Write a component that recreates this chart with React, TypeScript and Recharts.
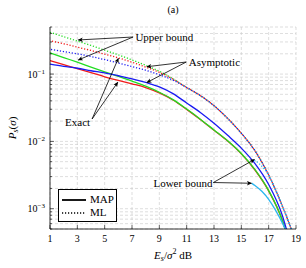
import {
  LineChart,
  Line,
  XAxis,
  YAxis,
  CartesianGrid,
  ReferenceLine,
  ReferenceDot
} from 'recharts'

// ---- data (symbol error probability vs Es/sigma^2) ----

const snr = [1, 2, 3, 4, 5, 6, 7, 8, 9, 10, 11, 12, 13, 14, 15, 16, 17, 18, 18.5, 19]

// green: upper bound
const upperMap = [0.207, 0.176, 0.15, 0.127, 0.108, 0.0923, 0.0785, 0.0661, 0.0537, 0.0417, 0.0302, 0.0214, 0.0148, 0.0102, 0.00661, 0.0038, 0.00186, 0.000676, 0.000316, 0.000141]
const upperMl = [0.417, 0.359, 0.309, 0.266, 0.226, 0.193, 0.162, 0.135, 0.11, 0.0851, 0.0631, 0.0479, 0.0339, 0.0219, 0.0132, 0.00724, 0.00316, 0.0011, 0.000603, 0.000316]

// red: exact
const exactMap = [0.158, 0.138, 0.12, 0.105, 0.0912, 0.0804, 0.0716, 0.0631, 0.0525, 0.0412, 0.0299, 0.0211, 0.0146, 0.0101, 0.00653, 0.00376, 0.00184, 0.000668, 0.000313, 0.00014]
const exactMl = [0.313, 0.282, 0.251, 0.224, 0.197, 0.174, 0.15, 0.127, 0.106, 0.0841, 0.0631, 0.0479, 0.0339, 0.0219, 0.0132, 0.00724, 0.00316, 0.0011, 0.000603, 0.000316]

// blue: asymptotic
const asymMap = [0.14, 0.13, 0.122, 0.112, 0.104, 0.0944, 0.0851, 0.075, 0.0646, 0.0513, 0.0372, 0.0269, 0.0186, 0.0123, 0.00794, 0.00468, 0.00229, 0.000794, 0.000355, 0.000158]
const asymMl = [0.233, 0.216, 0.2, 0.182, 0.164, 0.146, 0.129, 0.114, 0.0977, 0.0813, 0.0631, 0.0479, 0.0339, 0.0219, 0.0132, 0.00724, 0.00316, 0.0011, 0.000603, 0.000316]

// cyan: lower bound (only at high SNR)
const lowerMapSnr = [15.75, 16, 16.5, 17, 17.5, 18, 18.5, 19]
const lowerMap = [0.0024, 0.00221, 0.00182, 0.00138, 0.000955, 0.000617, 0.000363, 0.000178]
const lowerMlSnr = [15.95, 16.3, 16.6, 17, 17.35, 18, 18.5, 19]
const lowerMl = [0.00525, 0.00468, 0.00407, 0.00316, 0.00224, 0.0011, 0.000603, 0.000316]

const xTicks = [1, 3, 5, 7, 9, 11, 13, 15, 17, 19]
const yTicks = [
  0.0005, 0.0006, 0.0007, 0.0008, 0.0009,
  0.001, 0.002, 0.003, 0.004, 0.005, 0.006, 0.007, 0.008, 0.009,
  0.01, 0.02, 0.03, 0.04, 0.05, 0.06, 0.07, 0.08, 0.09,
  0.1, 0.2, 0.3, 0.4, 0.5
]

// annotation texts with arrows (data coordinates)
const noteTexts = ['Upper bound', 'Asymptotic', 'Exact', 'Lower bound']
const noteAnchors = [[7.25, 0.355], [11.15, 0.15], [2.1, 0.0196], [8.57, 0.00244]]
const noteTails = [[7.08, 0.355], [10.97, 0.151], [4.08, 0.0215], [12.95, 0.00245]]
const noteHeads = [
  [[3.07, 0.321], [3.07, 0.162]],
  [[8.09, 0.1285], [8.09, 0.075]],
  [[6.0, 0.171], [5.96, 0.0755]],
  [[15.96, 0.00538], [15.74, 0.00239]]
]

const legendItems = [
  { name: 'MAP', dash: undefined },
  { name: 'ML', dash: '1.2 1.8' }
]

const rows = snr.map((x, i) => ({
  snr: x,
  upperMap: upperMap[i],
  upperMl: upperMl[i],
  exactMap: exactMap[i],
  exactMl: exactMl[i],
  asymMap: asymMap[i],
  asymMl: asymMl[i]
}))
const lowerMapRows = lowerMapSnr.map((x, i) => ({ snr: x, p: lowerMap[i] }))
const lowerMlRows = lowerMlSnr.map((x, i) => ({ snr: x, p: lowerMl[i] }))

const FONT = '"Liberation Serif", "DejaVu Serif", serif'
const GREEN = '#22dd22'
const RED = '#f21a1a'
const BLUE = '#1a1af2'
const CYAN = '#29b6f0'
const DOT = '1.2 1.8'

const isDecade = (v: number) => Math.abs(Math.log10(v) - Math.round(Math.log10(v))) < 1e-6

const BottomTick = ({ x, y, payload }: any) => (
  <g>
    <line x1={x} x2={x} y1={y - 9} y2={y - 13} stroke="#000" strokeWidth={0.6} />
    <text x={x} y={y} dy="0.35em" textAnchor="middle" fontSize={10} fontFamily={FONT} fill="#000">
      {payload.value}
    </text>
  </g>
)

const TopTick = ({ x, y }: any) => (
  <line x1={x} x2={x} y1={y} y2={y + 4} stroke="#000" strokeWidth={0.6} />
)

const LeftTick = ({ x, y, payload }: any) => {
  const major = isDecade(payload.value)
  const ax = x + 5
  return (
    <g>
      <line x1={ax} x2={ax + (major ? 4 : 2)} y1={y} y2={y} stroke="#000" strokeWidth={0.6} />
      {major && (
        <text x={x} y={y} dy="0.35em" textAnchor="end" fontSize={10} fontFamily={FONT} fill="#000">
          <tspan>10</tspan>
          <tspan dy={-4} fontSize={7}>{'\u2212' + Math.round(-Math.log10(payload.value))}</tspan>
        </text>
      )}
    </g>
  )
}

const RightTick = ({ x, y, payload }: any) => {
  const major = isDecade(payload.value)
  return <line x1={x} x2={x - (major ? 4 : 2)} y1={y} y2={y} stroke="#000" strokeWidth={0.6} />
}

const YTitle = ({ viewBox }: any) => (
  <text
    transform={`translate(${viewBox.x + 4}, ${viewBox.y + viewBox.height / 2}) rotate(-90)`}
    textAnchor="middle"
    dominantBaseline="central"
    fontSize={11}
    fontFamily={FONT}
    fill="#000"
  >
    <tspan fontStyle="italic">P</tspan>
    <tspan fontSize={8} dy={2.5} fontStyle="italic">s</tspan>
    <tspan dy={-2.5}>(</tspan>
    <tspan fontStyle="italic">σ</tspan>
    <tspan>)</tspan>
  </text>
)

const XTitle = ({ viewBox }: any) => (
  <text
    x={viewBox.x + viewBox.width / 2}
    y={viewBox.y + 26}
    textAnchor="middle"
    dominantBaseline="central"
    fontSize={11}
    fontFamily={FONT}
    fill="#000"
  >
    <tspan fontStyle="italic">E</tspan>
    <tspan fontSize={8} dy={2.5} fontStyle="italic">s</tspan>
    <tspan dy={-2.5}>/</tspan>
    <tspan fontStyle="italic">σ</tspan>
    <tspan fontSize={8} dy={-4}>2</tspan>
    <tspan dy={4}>{'\u00a0dB'}</tspan>
  </text>
)

const Arrow = (props: any) => (
  <line
    x1={props.x1}
    y1={props.y1}
    x2={props.x2}
    y2={props.y2}
    stroke="#000"
    strokeWidth={0.8}
    markerEnd="url(#arrowhead)"
  />
)

const noteText = (text: string) => (props: any) => (
  <text
    x={props.cx}
    y={props.cy}
    dominantBaseline="central"
    fontSize={11}
    fontFamily={FONT}
    fill="#000"
  >
    {text}
  </text>
)

export default function App() {
  return (
    <div style={{ position: 'relative', width: 306, height: 268, background: '#fff' }}>
      <style>{'body{margin:0}'}</style>
      <div
        style={{
          position: 'absolute',
          left: 50,
          width: 246,
          top: 3,
          textAlign: 'center',
          fontFamily: FONT,
          fontSize: 10,
          lineHeight: '14px'
        }}
      >
        (a)
      </div>
      <LineChart
        width={306}
        height={268}
        data={rows}
        margin={{ top: 27, right: 10, bottom: 15, left: 8 }}
      >
        <defs>
          <marker
            id="arrowhead"
            viewBox="0 0 10 10"
            refX="9"
            refY="5"
            markerUnits="userSpaceOnUse"
            markerWidth="6"
            markerHeight="5"
            orient="auto"
          >
            <path d="M0,0.5 L10,5 L0,9.5 L2.5,5 z" fill="#000" />
          </marker>
        </defs>
        <CartesianGrid stroke="#c8c8c8" strokeDasharray="3 2" strokeWidth={0.6} />
        <XAxis
          dataKey="snr"
          type="number"
          domain={[1, 19]}
          ticks={xTicks}
          interval={0}
          tickSize={0}
          tickMargin={9}
          tick={<BottomTick />}
          axisLine={{ stroke: '#000', strokeWidth: 0.8 }}
          height={24}
          label={<XTitle />}
        />
        <XAxis
          xAxisId="top"
          orientation="top"
          dataKey="snr"
          type="number"
          domain={[1, 19]}
          ticks={xTicks}
          interval={0}
          tickSize={0}
          tickMargin={0}
          tick={<TopTick />}
          axisLine={{ stroke: '#000', strokeWidth: 0.8 }}
          height={0}
        />
        <YAxis
          type="number"
          scale="log"
          domain={[0.0005, 0.5]}
          allowDataOverflow
          ticks={yTicks}
          interval={0}
          tickSize={0}
          tickMargin={5}
          tick={<LeftTick />}
          axisLine={{ stroke: '#000', strokeWidth: 0.8 }}
          width={42}
          label={<YTitle />}
        />
        <YAxis
          yAxisId="right"
          orientation="right"
          type="number"
          scale="log"
          domain={[0.0005, 0.5]}
          allowDataOverflow
          ticks={yTicks}
          interval={0}
          tickSize={0}
          tickMargin={0}
          tick={<RightTick />}
          axisLine={{ stroke: '#000', strokeWidth: 0.8 }}
          width={0}
        />

        <Line dataKey="upperMl" stroke={GREEN} strokeWidth={1.3} strokeDasharray={DOT} dot={false} type="monotone" isAnimationActive={false} />
        <Line dataKey="exactMl" stroke={RED} strokeWidth={1.3} strokeDasharray={DOT} strokeDashoffset={1} dot={false} type="monotone" isAnimationActive={false} />
        <Line dataKey="asymMl" stroke={BLUE} strokeWidth={1.3} strokeDasharray={DOT} strokeDashoffset={2} dot={false} type="monotone" isAnimationActive={false} />
        <Line dataKey="exactMap" stroke={RED} strokeWidth={1.3} dot={false} type="monotone" isAnimationActive={false} />
        <Line dataKey="upperMap" stroke={GREEN} strokeWidth={1.3} dot={false} type="monotone" isAnimationActive={false} />
        <Line dataKey="asymMap" stroke={BLUE} strokeWidth={1.3} dot={false} type="monotone" isAnimationActive={false} />
        <Line data={lowerMlRows} dataKey="p" stroke={CYAN} strokeWidth={1.3} strokeDasharray={DOT} dot={false} type="monotone" isAnimationActive={false} />
        <Line data={lowerMapRows} dataKey="p" stroke={CYAN} strokeWidth={1.3} dot={false} type="monotone" isAnimationActive={false} />

        {noteHeads.map((heads, i) =>
          heads.map((h, j) => (
            <ReferenceLine
              key={`arrow-${i}-${j}`}
              segment={[
                { x: noteTails[i][0], y: noteTails[i][1] },
                { x: h[0], y: h[1] }
              ]}
              shape={<Arrow />}
            />
          ))
        )}
        {noteTexts.map((t, i) => (
          <ReferenceDot
            key={`note-${i}`}
            x={noteAnchors[i][0]}
            y={noteAnchors[i][1]}
            r={0}
            shape={noteText(t)}
          />
        ))}
      </LineChart>

      <div
        style={{
          position: 'absolute',
          left: 58,
          top: 189,
          width: 59,
          height: 33,
          border: '1px solid #000',
          background: '#fff',
          fontFamily: FONT,
          fontSize: 11,
          boxSizing: 'border-box'
        }}
      >
        {legendItems.map((item, i) => (
          <div
            key={item.name}
            style={{ position: 'absolute', left: 3, top: 3 + i * 13, height: 13, display: 'flex', alignItems: 'center' }}
          >
            <svg width={24} height={6}>
              <line x1={0} x2={24} y1={3} y2={3} stroke="#000" strokeWidth={item.dash ? 1.3 : 1.8} strokeDasharray={item.dash} />
            </svg>
            <span style={{ marginLeft: 4, lineHeight: '13px' }}>{item.name}</span>
          </div>
        ))}
      </div>
    </div>
  )
}
